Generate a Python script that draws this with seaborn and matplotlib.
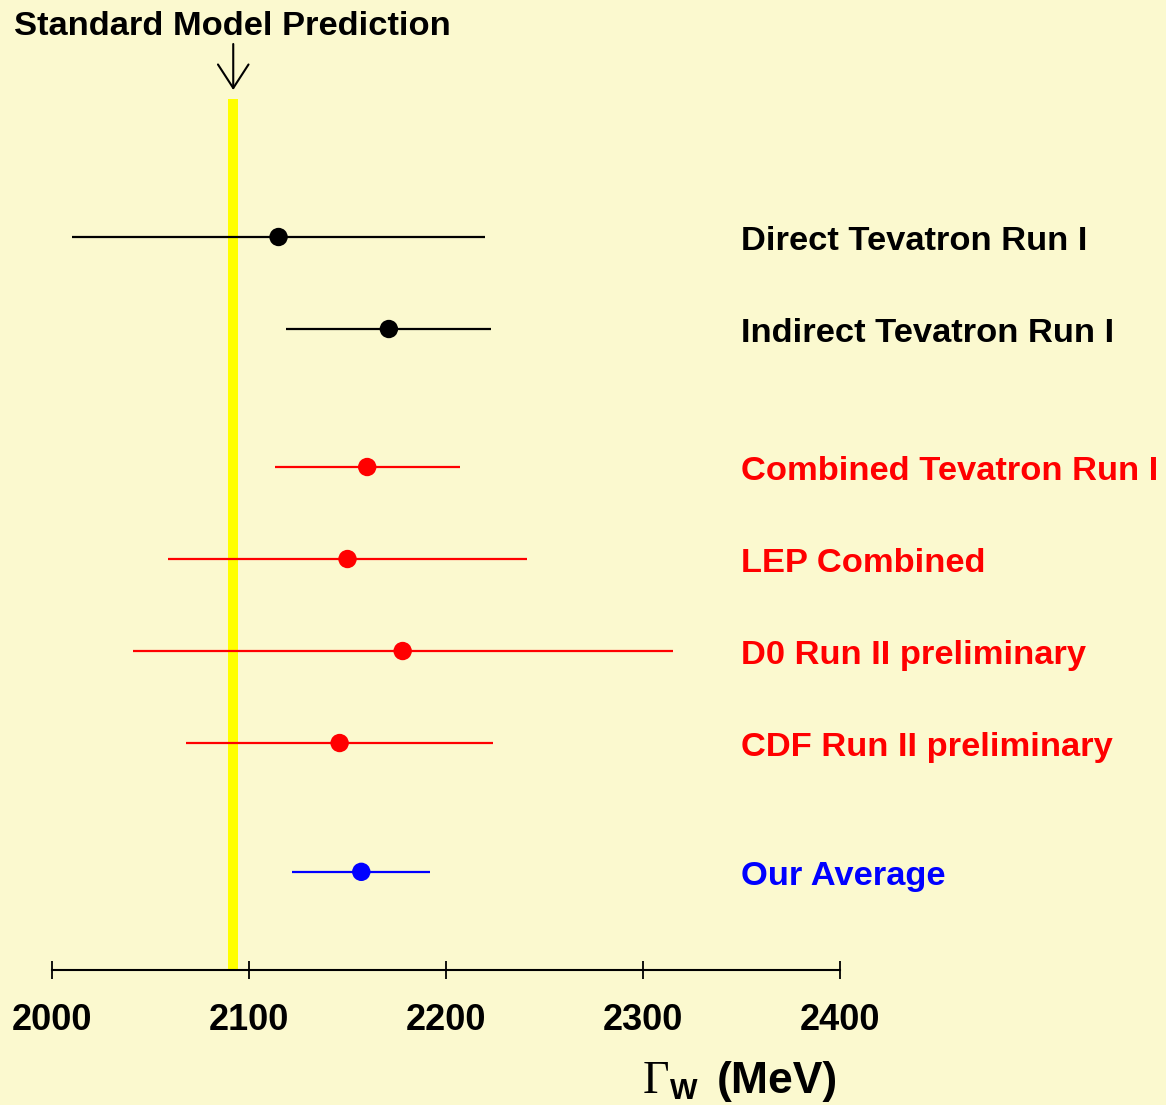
import matplotlib
matplotlib.use("Agg")
import matplotlib.pyplot as plt
import seaborn as sns
import pandas as pd

# ---- data ----
labels = ["Direct Tevatron Run I", "Indirect Tevatron Run I", "Combined Tevatron Run I",
          "LEP Combined", "D0 Run II preliminary", "CDF Run II preliminary", "Our Average"]
values = [2115, 2171, 2160, 2150, 2178, 2146, 2157]
errors = [105, 52, 47, 91, 137, 78, 35]
groups = ["black", "black", "red", "red", "red", "red", "blue"]
sm_value = 2092
sm_error = 2.6
xticks = [2000, 2100, 2200, 2300, 2400]

# layout (row positions, not data)
rows = [0, 1, 2.5, 3.5, 4.5, 5.5, 6.9]

df = pd.DataFrame({"label": labels, "value": values, "err": errors,
                   "group": groups, "row": rows})

bg = "#fbf9cf"
sns.set_theme(style="white")
plt.rcParams["font.family"] = ["Liberation Sans", "DejaVu Sans"]
plt.rcParams["text.color"] = "black"
plt.rcParams["xtick.color"] = "black"
plt.rcParams["xtick.labelcolor"] = "black"

W, H = 1166, 1105
fig = plt.figure(figsize=(W / 100, H / 100), dpi=100, facecolor=bg)
ax = fig.add_axes([52 / W, 1 - 970 / H, (840 - 52) / W, (970 - 99) / H])
ax.set_facecolor(bg)

ax.axvspan(sm_value - sm_error, sm_value + sm_error, color="#ffff00", zorder=1, lw=0)

palette = {"black": "black", "red": "#ff0000", "blue": "#0000ff"}
ax.hlines(df["row"], df["value"] - df["err"], df["value"] + df["err"],
          colors=[palette[g] for g in df["group"]], lw=1.6, zorder=2)
sns.scatterplot(data=df, x="value", y="row", hue="group", palette=palette,
                s=175, edgecolor="none", legend=False, ax=ax, zorder=3)

ax.set_xlim(2000, 2400)
ax.set_ylim(7.967, -1.5)
for s in ["top", "left", "right"]:
    ax.spines[s].set_visible(False)
ax.spines["bottom"].set_color("black")
ax.spines["bottom"].set_linewidth(1.5)
ax.set_yticks([])
ax.set_xticks(xticks)
ax.set_xticklabels([str(t) for t in xticks], fontsize=26, fontweight="bold",
                   color="black")
ax.tick_params(axis="x", direction="inout", length=13, width=1.3, color="black",
               pad=17, bottom=True)
ax.set_xlabel("")
ax.set_ylabel("")

# row labels
for lab, r, g in zip(labels, rows, groups):
    ax.annotate(lab, xy=(0.874, r), xycoords=("axes fraction", "data"),
                xytext=(0, -9.5), textcoords="offset points",
                ha="left", va="baseline", fontsize=24.8, fontweight="bold",
                color=palette[g], annotation_clip=False)

# title and arrow
fig.text(14 / W, 1 - 35 / H, "Standard Model Prediction", fontsize=24.8,
         fontweight="bold", ha="left", va="baseline", color="black")
ax.annotate("", xy=(sm_value, H - 90), xycoords=("data", "figure pixels"),
            xytext=(sm_value, H - 44), textcoords=("data", "figure pixels"),
            arrowprops=dict(arrowstyle="->,head_length=0.85,head_width=0.55",
                            mutation_scale=20, lw=1.5, color="black",
                            shrinkA=0, shrinkB=0),
            annotation_clip=False)

# x axis label: Gamma_W (MeV)
fig.text(643 / W, 1 - 1093 / H, "Γ", family="Liberation Serif", fontsize=33,
         ha="left", va="baseline", color="black")
fig.text(670 / W, 1 - 1099 / H, "W", fontsize=21, fontweight="bold",
         ha="left", va="baseline", color="black")
fig.text(838 / W, 1 - 1093 / H, "(MeV)", fontsize=32, fontweight="bold",
         ha="right", va="baseline", color="black")

fig.savefig("out.png", dpi=100, facecolor=bg)
